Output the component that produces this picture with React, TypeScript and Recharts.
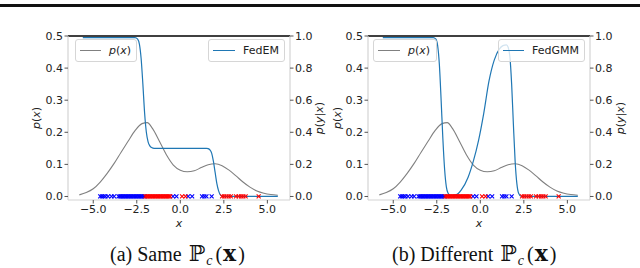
import React from 'react'
import { ComposedChart, Line, Scatter, XAxis, YAxis, ReferenceLine } from 'recharts'

// mixture density p(x)
const PX_X = [-5.8, -5.4, -5.0, -4.6, -4.2, -3.8, -3.4, -3.0, -2.6, -2.2, -1.9, -1.6, -1.2, -0.8, -0.4, 0.0, 0.4, 0.8, 1.2, 1.6, 2.0, 2.4, 2.8, 3.2, 3.6, 4.0, 4.4, 4.8, 5.2, 5.6]
const PX_Y = [0.005, 0.012, 0.024, 0.045, 0.072, 0.103, 0.138, 0.172, 0.205, 0.227, 0.23, 0.212, 0.172, 0.13, 0.098, 0.082, 0.077, 0.08, 0.09, 0.099, 0.102, 0.096, 0.082, 0.064, 0.045, 0.029, 0.017, 0.01, 0.006, 0.004]

// p(y|x) for FedEM (panel a)
const FEDEM_X = [-5.6, -2.6, -2.45, -2.35, -2.25, -2.15, -2.05, -1.95, -1.85, -1.75, -1.65, -1.5, 1.5, 1.6, 1.7, 1.8, 1.9, 2.0, 2.1, 2.2, 2.3, 2.45, 5.6]
const FEDEM_Y = [0.99, 0.99, 0.98, 0.95, 0.86, 0.7, 0.52, 0.4, 0.34, 0.315, 0.305, 0.3, 0.3, 0.298, 0.29, 0.27, 0.22, 0.15, 0.08, 0.035, 0.01, 0.0, 0.0]

// p(y|x) for FedGMM (panel b)
const FEDGMM_X = [-5.6, -2.7, -2.55, -2.45, -2.35, -2.25, -2.15, -2.05, -1.95, -1.85, -1.7, -1.4, -1.1, -0.7, -0.4, -0.1, 0.2, 0.5, 0.8, 1.1, 1.3, 1.5, 1.6, 1.7, 1.8, 1.9, 2.0, 2.1, 2.2, 2.35, 5.6]
const FEDGMM_Y = [0.99, 0.99, 0.98, 0.94, 0.82, 0.6, 0.36, 0.17, 0.06, 0.02, 0.005, 0.01, 0.04, 0.12, 0.22, 0.35, 0.52, 0.72, 0.85, 0.92, 0.94, 0.945, 0.93, 0.87, 0.7, 0.45, 0.22, 0.08, 0.02, 0.0, 0.0]

// samples along y = 0
const BLUE_X = [-4.6, -4.5, -4.4, -4.3, -4.15, -3.95, -3.8, -3.55, -3.47, -3.4, -3.32, -3.25, -3.17, -3.1, -3.02, -2.95, -2.87, -2.8, -2.72, -2.65, -2.57, -2.5, -2.42, -2.35, -2.27, -2.2, -2.12, -2.05, -0.42, -0.22, 0.45, 0.68, 1.25, 1.38, 1.5, 1.8]
const RED_X = [-2.0, -1.92, -1.85, -1.77, -1.7, -1.62, -1.55, -1.47, -1.4, -1.32, -1.25, -1.17, -1.1, -1.02, -0.95, -0.87, -0.8, -0.72, -0.65, -0.58, 0.1, 0.3, 2.4, 2.52, 2.65, 2.78, 2.9, 3.2, 3.35, 3.5, 3.62, 3.75, 4.5]

const X_TICKS = [-5, -2.5, 0, 2.5, 5]
const LEFT_TICKS = [0, 0.1, 0.2, 0.3, 0.4, 0.5]
const RIGHT_TICKS = [0, 0.2, 0.4, 0.6, 0.8, 1.0]

const X_DOMAIN = [-6.45, 6.3]
const SPINE = '#d4d4d4'
const FONT = '"DejaVu Sans", sans-serif'
const TICK = { fill: '#222', fontSize: 11, fontFamily: FONT }

const toPoints = (xs: number[], ys: number[]) => xs.map((x, i) => ({ x, y: ys[i] }))
const onAxis = (xs: number[]) => xs.map((x) => ({ x, y: 0 }))

const pxData = toPoints(PX_X, PX_Y)
const blueData = onAxis(BLUE_X)
const redData = onAxis(RED_X)

function fmt(v: number) {
  return v < 0 ? `\u2212${Math.abs(v).toFixed(1)}` : v.toFixed(1)
}

function cross(color: string) {
  return (props: any) => {
    const { cx, cy } = props
    if (cx == null || cy == null) return <g />
    const r = 2
    return (
      <path
        d={`M${cx - r},${cy - r}L${cx + r},${cy + r}M${cx + r},${cy - r}L${cx - r},${cy + r}`}
        stroke={color}
        strokeWidth={1.1}
        fill="none"
      />
    )
  }
}

function yTitle(x: number, kind: 'px' | 'pyx') {
  return () => {
    const cy = 118
    return (
      <text
        x={x}
        y={cy}
        transform={`rotate(-90 ${x} ${cy})`}
        textAnchor="middle"
        dominantBaseline="central"
        fill="#222"
        fontSize={11}
        fontFamily={FONT}
      >
        {kind === 'px' ? (
          <>
            <tspan fontStyle="italic">p</tspan>(<tspan fontStyle="italic">x</tspan>)
          </>
        ) : (
          <>
            <tspan fontStyle="italic">p</tspan>(<tspan fontStyle="italic">y</tspan>|<tspan fontStyle="italic">x</tspan>)
          </>
        )}
      </text>
    )
  }
}

function xTitle(cx: number) {
  return () => (
    <text x={cx} y={223} textAnchor="middle" dominantBaseline="central" fill="#222" fontSize={11} fontFamily={FONT} fontStyle="italic">
      x
    </text>
  )
}

function LegendBox({ style, color, children }: { style: React.CSSProperties; color: string; children: React.ReactNode }) {
  return (
    <div
      style={{
        position: 'absolute',
        top: 39,
        height: 23,
        boxSizing: 'border-box',
        border: '1px solid #d6d6d6',
        borderRadius: 3,
        background: 'rgba(255,255,255,0.8)',
        display: 'flex',
        alignItems: 'center',
        padding: '0 5px 0 4px',
        fontFamily: FONT,
        fontSize: 11,
        color: '#222',
        ...style,
      }}
    >
      <div style={{ width: 22, height: 1.2, background: color, marginRight: 8 }} />
      <span>{children}</span>
    </div>
  )
}

type PanelProps = {
  left: number
  width: number
  leftW: number
  rightW: number
  fedData: { x: number; y: number }[]
  labels: { px: number; pyx: number; x: number }
}

function Panel({ left, width, leftW, rightW, fedData, labels }: PanelProps) {
  return (
    <div style={{ position: 'absolute', left, top: 0 }}>
      <ComposedChart width={width} height={232} margin={{ top: 36, right: 0, bottom: 0, left: 0 }} style={{ overflow: 'visible' }}>
        <XAxis
          type="number"
          dataKey="x"
          domain={X_DOMAIN}
          ticks={X_TICKS}
          allowDataOverflow
          tickFormatter={fmt}
          height={32}
          axisLine={{ stroke: SPINE, strokeWidth: 1.2 }}
          tickLine={{ stroke: '#555' }}
          tickSize={3.5}
          tickMargin={2}
          tick={TICK}
          label={xTitle(labels.x)}
        />
        <YAxis
          yAxisId="l"
          dataKey="y"
          domain={[-0.011, 0.5]}
          ticks={LEFT_TICKS}
          allowDataOverflow
          tickFormatter={(v: number) => v.toFixed(1)}
          width={leftW}
          axisLine={{ stroke: SPINE, strokeWidth: 1.2 }}
          tickLine={{ stroke: '#555' }}
          tickSize={3.5}
          tickMargin={1.5}
          tick={TICK}
          label={yTitle(labels.px, 'px')}
        />
        <YAxis
          yAxisId="r"
          orientation="right"
          domain={[-0.022, 1.0]}
          ticks={RIGHT_TICKS}
          allowDataOverflow
          tickFormatter={(v: number) => v.toFixed(1)}
          width={rightW}
          axisLine={{ stroke: SPINE, strokeWidth: 1.2 }}
          tickLine={{ stroke: '#555' }}
          tickSize={3.5}
          tickMargin={1.5}
          tick={TICK}
          label={yTitle(labels.pyx, 'pyx')}
        />
        <ReferenceLine yAxisId="l" y={0.5} stroke="#000" strokeWidth={1.3} />
        <Line yAxisId="l" data={pxData} dataKey="y" type="monotone" stroke="#808080" strokeWidth={1.1} dot={false} isAnimationActive={false} />
        <Scatter yAxisId="l" data={blueData} dataKey="y" fill="#0000ff" shape={cross('#0000ff')} isAnimationActive={false} />
        <Scatter yAxisId="l" data={redData} dataKey="y" fill="#ff0000" shape={cross('#ff0000')} isAnimationActive={false} />
        <Line yAxisId="r" data={fedData} dataKey="y" type="monotone" stroke="#1f77b4" strokeWidth={1.2} dot={false} isAnimationActive={false} />
      </ComposedChart>
    </div>
  )
}

const PxLabel = () => (
  <>
    <i>p</i>(<i>x</i>)
  </>
)

const captionStyle: React.CSSProperties = {
  position: 'absolute',
  top: 240,
  height: 27,
  fontFamily: '"Liberation Serif", "DejaVu Serif", serif',
  fontSize: 20,
  lineHeight: '26px',
  color: '#111',
  whiteSpace: 'nowrap',
}

function MathTail() {
  return (
    <>
      <span style={{ fontFamily: '"DejaVu Serif", serif', fontSize: 22, marginLeft: 7 }}>ℙ</span>
      <i style={{ fontSize: 14, verticalAlign: -4, marginLeft: 1, lineHeight: '14px' }}>c</i>
      <span style={{ marginLeft: 3 }}>(</span>
      <b style={{ fontFamily: '"DejaVu Serif", serif', fontSize: 22, margin: '0 2px 0 1px' }}>x</b>
      <span>)</span>
    </>
  )
}

export default function App() {
  return (
    <div style={{ position: 'absolute', left: 0, top: 0, width: 640, height: 268, background: '#fff', overflow: 'hidden' }}>
      <div style={{ position: 'absolute', left: 0, top: 4, width: 640, height: 3, background: '#111' }} />

      <Panel left={0} width={330} leftW={68} rightW={40} fedData={toPoints(FEDEM_X, FEDEM_Y)} labels={{ px: 36, pyx: 319, x: 179 }} />
      <Panel left={320} width={320} leftW={48} rightW={50} fedData={toPoints(FEDGMM_X, FEDGMM_Y)} labels={{ px: 17, pyx: 300, x: 159 }} />

      <LegendBox style={{ left: 75, width: 62 }} color="#808080">
        <PxLabel />
      </LegendBox>
      <LegendBox style={{ left: 208, width: 77 }} color="#1f77b4">
        FedEM
      </LegendBox>
      <LegendBox style={{ left: 373, width: 64 }} color="#808080">
        <PxLabel />
      </LegendBox>
      <LegendBox style={{ left: 498, width: 87 }} color="#1f77b4">
        FedGMM
      </LegendBox>

      <div style={{ ...captionStyle, left: 110 }}>
        (a) Same
        <MathTail />
      </div>
      <div style={{ ...captionStyle, left: 392 }}>
        (b) Different
        <MathTail />
      </div>
    </div>
  )
}
